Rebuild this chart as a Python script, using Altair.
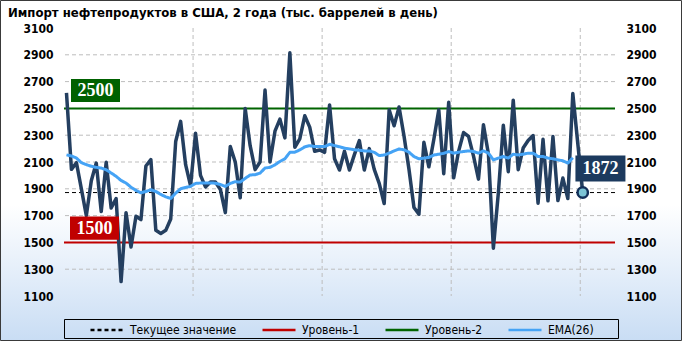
import altair as alt
import pandas as pd

title_text = "Импорт  нефтепродуктов  в США, 2 года (тыс. баррелей  в день)"

imports = [2616, 2045, 2095, 1900, 1700, 1960, 2092, 1730, 2098, 1757,
           1827, 1208, 1722, 1465, 1695, 1670, 2070, 2118, 1590, 1567,
           1590, 1675, 2253, 2403, 2080, 1922, 2315, 2000, 1914, 1950,
           1950, 1895, 1722, 2216, 2100, 1834, 2500, 2222, 2043, 2100,
           2637, 2100, 2330, 2420, 2280, 2915, 2210, 2272, 2445, 2360,
           2180, 2190, 2172, 2526, 2124, 2040, 2180, 2040, 2155, 2260,
           2040, 2200, 2045, 1940, 1790, 2489, 2370, 2511, 2293, 2045,
           1760, 1710, 2247, 2064, 2268, 2489, 2013, 2545, 1982, 2181,
           2320, 2291, 2144, 1972, 2378, 2160, 1457, 1870, 2374, 2028,
           2561, 2043, 2204, 2260, 2297, 1793, 2269, 1810, 2290, 1812,
           1980, 1827, 2611, 2240, 1872]

ema26 = [2153, 2145, 2130, 2095, 2080, 2068, 2060, 2055, 2042, 2018,
         1993, 1962, 1943, 1912, 1888, 1870, 1880, 1893, 1880, 1858,
         1840, 1828, 1868, 1900, 1910, 1918, 1940, 1943, 1943, 1943,
         1942, 1932, 1918, 1940, 1953, 1950, 1978, 2003, 2005, 2017,
         2055, 2060, 2079, 2104, 2124, 2172, 2173, 2190, 2213, 2222,
         2215, 2215, 2215, 2232, 2222, 2214, 2203, 2198, 2191, 2188,
         2183, 2183, 2172, 2148, 2152, 2166, 2183, 2197, 2191, 2173,
         2141, 2124, 2129, 2134, 2152, 2158, 2165, 2178, 2166, 2173,
         2178, 2183, 2178, 2166, 2183, 2166, 2116, 2129, 2141, 2129,
         2158, 2153, 2158, 2166, 2166, 2141, 2141, 2129, 2124, 2116,
         2109, 2092, 2132]

date_labels = ["14.08.2015", "12.02.2016", "12.08.2016", "10.02.2017", "23.08.2017"]
date_ticks = [0, 26, 52, 78, 104]
y_ticks = [1100, 1300, 1500, 1700, 1900, 2100, 2300, 2500, 2700, 2900, 3100]
level1 = 1500
level2 = 2500

legend_labels = ["Текущее значение", "Уровень-1", "Уровень-2", "EMA(26)"]
legend_colors = ["#000000", "#c00000", "#006400", "#45a3f5"]
legend_dashes = [[4, 3], [1, 0], [1, 0], [1, 0]]

FONT = "DejaVu Sans Condensed"
SERIF = "Liberation Serif"
NAVY = "#243f60"

weeks = [i + 0.5 for i in range(len(imports))]
main_df = pd.DataFrame({"week": weeks, "value": imports})
ema_df = pd.DataFrame({"week": weeks[:len(ema26)], "value": ema26,
                       "series": [legend_labels[3]] * len(ema26)})
cur_df = pd.DataFrame({"value": [imports[-1]], "series": [legend_labels[0]]})
lvl_df = pd.DataFrame({"value": [level1, level2], "series": legend_labels[1:3]})
last_df = pd.DataFrame({"week": [weeks[-1]], "value": [imports[-1]], "label": [str(imports[-1])]})
g_df = pd.DataFrame({"value": [level2], "label": [str(level2)]})
r_df = pd.DataFrame({"value": [level1], "label": [str(level1)]})
one = pd.DataFrame({"t": [title_text]})

x_scale = alt.Scale(domain=[0, 111], nice=False, zero=False)
y_scale = alt.Scale(domain=[1100, 3100], nice=False, zero=False)
color_scale = alt.Scale(domain=legend_labels, range=legend_colors)
dash_scale = alt.Scale(domain=legend_labels, range=legend_dashes)

legend_def = alt.Legend(orient="none", legendX=25, legendY=284, direction="horizontal",
                        title=None, symbolType="stroke", symbolSize=1089, symbolStrokeWidth=2.5,
                        labelFont=FONT, labelFontSize=12, labelColor="#000000",
                        columnPadding=20, labelOffset=5, padding=0, zindex=1)

label_expr = " : ".join(f"datum.value == {t} ? '{l}'" for t, l in zip(date_ticks, date_labels)) + " : ''"

x_axis = alt.Axis(values=date_ticks, labelExpr=label_expr, grid=False, ticks=False, tickSize=0,
                  domain=False, labelPadding=7, labelFlush=False, labelOverlap=False,
                  labelFont=FONT, labelFontWeight="bold", labelFontSize=12, labelColor="#000000",
                  title=None, zindex=1)
y_left = alt.Axis(orient="left", values=y_ticks, grid=False, ticks=False, tickSize=0, domain=False,
                  labelPadding=11, labelFlush=False, labelOverlap=False, format="d",
                  labelFont=FONT, labelFontWeight="bold", labelFontSize=12, labelColor="#000000",
                  title=None, zindex=1)
y_right = alt.Axis(orient="right", values=y_ticks, grid=False, ticks=False, tickSize=0, domain=False,
                   labelPadding=11, labelFlush=False, labelOverlap=False, format="d",
                   labelFont=FONT, labelFontWeight="bold", labelFontSize=12, labelColor="#000000",
                   title=None, zindex=1)

gradient = {"gradient": "linear", "x1": 0, "y1": 0, "x2": 0, "y2": 1,
            "stops": [{"offset": 0, "color": "#ffffff"},
                      {"offset": 0.6, "color": "#ffffff"},
                      {"offset": 1, "color": "#c9ddf4"}]}

bg = alt.Chart(one).mark_rect(fill=gradient, stroke="#3a3a3a", strokeWidth=1).encode(
    x=alt.value(-63.5), x2=alt.value(617.5), y=alt.value(-27.5), y2=alt.value(312.5))

hgrid = alt.Chart(pd.DataFrame({"v": y_ticks[1:-1]})).mark_rule(
    color="#bdbdbd", strokeDash=[4, 3], strokeWidth=1).encode(
    y=alt.Y("v:Q", scale=y_scale, axis=None))
vgrid = alt.Chart(pd.DataFrame({"w": date_ticks[1:]})).mark_rule(
    color="#bdbdbd", strokeDash=[4, 3], strokeWidth=1).encode(
    x=alt.X("w:Q", scale=x_scale, axis=None))

levels = alt.Chart(lvl_df).mark_rule(strokeWidth=2).encode(
    y=alt.Y("value:Q", scale=y_scale, axis=None),
    color=alt.Color("series:N", scale=color_scale, legend=legend_def),
    strokeDash=alt.StrokeDash("series:N", scale=dash_scale, legend=legend_def))

cur = alt.Chart(cur_df).mark_rule(strokeWidth=1).encode(
    y=alt.Y("value:Q", scale=y_scale, axis=None),
    color=alt.Color("series:N", scale=color_scale, legend=legend_def),
    strokeDash=alt.StrokeDash("series:N", scale=dash_scale, legend=legend_def))

main = alt.Chart(main_df).mark_line(color=NAVY, strokeWidth=3.5, strokeJoin="round").encode(
    x=alt.X("week:Q", scale=x_scale, axis=x_axis),
    y=alt.Y("value:Q", scale=y_scale, axis=y_left))

ema = alt.Chart(ema_df).mark_line(strokeWidth=3, strokeJoin="round").encode(
    x=alt.X("week:Q", scale=x_scale, axis=None),
    y=alt.Y("value:Q", scale=y_scale, axis=y_right),
    color=alt.Color("series:N", scale=color_scale, legend=legend_def),
    strokeDash=alt.StrokeDash("series:N", scale=dash_scale, legend=legend_def))

g_box = alt.Chart(g_df).mark_rect(color="#006100", yOffset=-29.4, y2Offset=-6.4).encode(
    x=alt.value(7), x2=alt.value(56),
    y=alt.Y("value:Q", scale=y_scale, axis=None), y2=alt.Y2("value"))
g_txt = alt.Chart(g_df).mark_text(font=SERIF, fontSize=18, fontWeight="bold", color="#ffffff",
                                  align="center", baseline="middle", dy=-17.4).encode(
    x=alt.value(31.5), y=alt.Y("value:Q", scale=y_scale, axis=None), text="label:N")

r_box = alt.Chart(r_df).mark_rect(color="#c00000", yOffset=-26, y2Offset=-2.7).encode(
    x=alt.value(6), x2=alt.value(55),
    y=alt.Y("value:Q", scale=y_scale, axis=None), y2=alt.Y2("value"))
r_txt = alt.Chart(r_df).mark_text(font=SERIF, fontSize=18, fontWeight="bold", color="#ffffff",
                                  align="center", baseline="middle", dy=-13.9).encode(
    x=alt.value(30.5), y=alt.Y("value:Q", scale=y_scale, axis=None), text="label:N")

pt = alt.Chart(last_df).mark_point(shape="circle", fill="#7cc4d6", stroke="#13305a", strokeWidth=2.5,
                                   size=108, opacity=1, fillOpacity=1).encode(
    x=alt.X("week:Q", scale=x_scale, axis=None), y=alt.Y("value:Q", scale=y_scale, axis=None))

v_box = alt.Chart(last_df).mark_rect(color="#1c3a5e", xOffset=-7.3, x2Offset=42.7,
                                     yOffset=-37.1, y2Offset=-11.1).encode(
    x=alt.X("week:Q", scale=x_scale, axis=None), x2=alt.X2("week"),
    y=alt.Y("value:Q", scale=y_scale, axis=None), y2=alt.Y2("value"))
v_txt = alt.Chart(last_df).mark_text(font=SERIF, fontSize=18, fontWeight="bold", color="#ffffff",
                                     align="center", baseline="middle", dx=17.7, dy=-23.6).encode(
    x=alt.X("week:Q", scale=x_scale, axis=None), y=alt.Y("value:Q", scale=y_scale, axis=None),
    text="label:N")

leg_box = alt.Chart(one).mark_rect(fillOpacity=0, stroke="#000000", strokeWidth=1).encode(
    x=alt.value(0.5), x2=alt.value(554.5), y=alt.value(291.5), y2=alt.value(310.5))

title = alt.Chart(one).mark_text(align="left", baseline="middle", font=FONT, fontSize=13,
                                 fontWeight="bold", color="#000000").encode(
    x=alt.value(-56), y=alt.value(-15), text="t:N")

chart = alt.layer(bg, hgrid, vgrid, levels, cur, main, ema, g_box, g_txt, r_box, r_txt,
                  pt, v_box, v_txt, leg_box, title).resolve_axis(y="independent").properties(
    width=551, height=268,
    autosize=alt.AutoSizeParams(type="none"),
    padding={"left": 64, "top": 28, "right": 67, "bottom": 45},
    background="#ffffff",
).configure_view(stroke="#000000", strokeWidth=1)

chart.save("out.html", embed_options={"renderer": "svg", "actions": False})
